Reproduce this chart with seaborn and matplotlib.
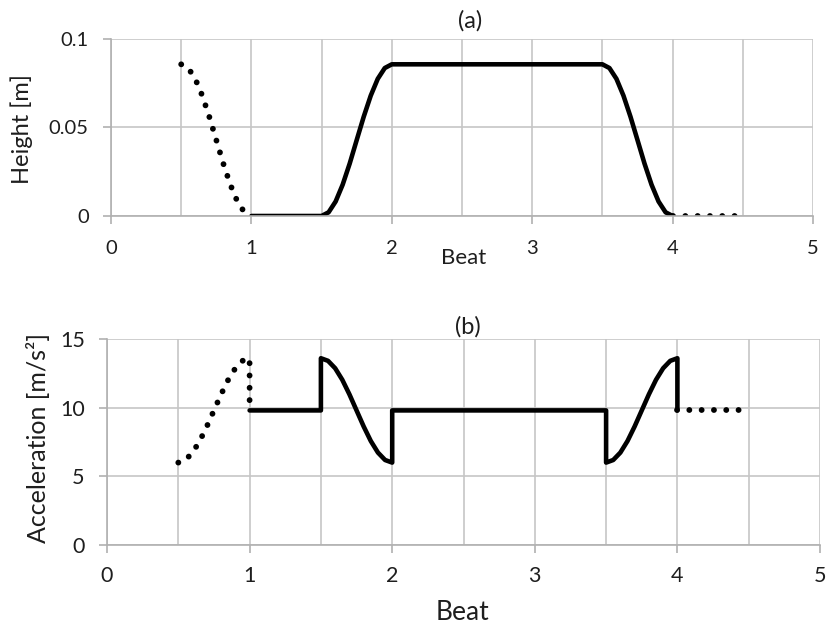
import matplotlib
matplotlib.use("Agg")
import matplotlib.pyplot as plt
import seaborn as sns
import pandas as pd
from matplotlib.ticker import MultipleLocator

sns.set_theme(style="white")
plt.rcParams['font.family'] = ['Lato', 'DejaVu Sans']

# ---------------- data ----------------
# (a) Height [m]
h_pre_x = [0.5, 0.55, 0.6, 0.65, 0.7, 0.75, 0.8, 0.85, 0.9, 0.95, 1.0]
h_pre_y = [0.0857, 0.0836, 0.0775, 0.0680, 0.0561, 0.0429, 0.0296, 0.0177, 0.0082, 0.0021, 0.0]

h_main_x = [1.0, 1.5, 1.55, 1.6, 1.65, 1.7, 1.75, 1.8, 1.85, 1.9, 1.95, 2.0,
            3.5, 3.55, 3.6, 3.65, 3.7, 3.75, 3.8, 3.85, 3.9, 3.95, 4.0]
h_main_y = [0.0, 0.0, 0.0021, 0.0082, 0.0177, 0.0296, 0.0429, 0.0561, 0.0680, 0.0775, 0.0836, 0.0857,
            0.0857, 0.0836, 0.0775, 0.0680, 0.0561, 0.0429, 0.0296, 0.0177, 0.0082, 0.0021, 0.0]

h_post_x = [4.0, 4.45]
h_post_y = [0.0, 0.0]

# (b) Acceleration [m/s²]
a_pre_x = [0.5, 0.55, 0.6, 0.65, 0.7, 0.75, 0.8, 0.85, 0.9, 0.95, 1.0, 1.0]
a_pre_y = [6.0, 6.19, 6.73, 7.57, 8.63, 9.8, 10.97, 12.03, 12.87, 13.41, 13.6, 9.8]

a_main_x = [1.0, 1.5, 1.5, 1.55, 1.6, 1.65, 1.7, 1.75, 1.8, 1.85, 1.9, 1.95, 2.0, 2.0,
            3.5, 3.5, 3.55, 3.6, 3.65, 3.7, 3.75, 3.8, 3.85, 3.9, 3.95, 4.0, 4.0]
a_main_y = [9.8, 9.8, 13.6, 13.41, 12.87, 12.03, 10.97, 9.8, 8.63, 7.57, 6.73, 6.19, 6.0, 9.8,
            9.8, 6.0, 6.19, 6.73, 7.57, 8.63, 9.8, 10.97, 12.03, 12.87, 13.41, 13.6, 9.8]

a_post_x = [4.0, 4.45]
a_post_y = [9.8, 9.8]

x_ticks = [0, 1, 2, 3, 4, 5]

# ---------------- figure ----------------
fig = plt.figure(figsize=(8.27, 6.28), dpi=100)
ax1 = fig.add_axes([111/827, 1-216/628, (813-111)/827, (216-39)/628])
ax2 = fig.add_axes([107/827, 1-545/628, (820-107)/827, (545-339)/628])

GRID = '#c6c6c6'
AXC = '#b0b0b0'
TXT = '#1e1e1e'
DOT = dict(color='black', lw=4.2, dashes=(0.01, 2.1), dash_capstyle='round')
SOLID = dict(color='black', lw=3.3, solid_joinstyle='round')


def seg(ax, xs, ys, **kw):
    df = pd.DataFrame({'x': xs, 'y': ys})
    sns.lineplot(data=df, x='x', y='y', sort=False, estimator=None, ax=ax, **kw)


seg(ax1, h_pre_x, h_pre_y, **DOT)
seg(ax1, h_main_x, h_main_y, **SOLID)
seg(ax1, h_post_x, h_post_y, **DOT)

seg(ax2, a_pre_x, a_pre_y, **DOT)
seg(ax2, a_main_x, a_main_y, **SOLID)
seg(ax2, a_post_x, a_post_y, **DOT)


def style(ax, ymax, ystep, fs, xpad):
    ax.set_xlim(0, 5)
    ax.set_ylim(0, ymax)
    ax.set_xticks(x_ticks)
    ax.xaxis.set_minor_locator(MultipleLocator(0.5))
    ax.yaxis.set_major_locator(MultipleLocator(ystep))
    ax.grid(True, which='both', axis='x', color=GRID, lw=1.2)
    ax.grid(True, which='major', axis='y', color=GRID, lw=1.2)
    ax.set_axisbelow(True)
    for s in ['top', 'right']:
        ax.spines[s].set_visible(False)
    for s in ['left', 'bottom']:
        ax.spines[s].set_color(AXC)
        ax.spines[s].set_linewidth(1.2)
    ax.tick_params(axis='x', which='major', direction='out', length=6, width=1.2,
                   color=AXC, labelsize=fs, pad=xpad, labelcolor=TXT, bottom=True)
    ax.tick_params(axis='x', which='minor', length=0)
    ax.tick_params(axis='y', which='major', direction='out', length=6, width=1.2,
                   color=AXC, labelsize=fs, pad=10, labelcolor=TXT, left=True)
    ax.set_xlabel('')
    ax.set_ylabel('')


style(ax1, 0.1, 0.05, 14.5, 11)
style(ax2, 15, 5, 15.5, 9)
ax1.set_yticks([0, 0.05, 0.1])
ax1.set_yticklabels(['0', '0.05', '0.1'])

fig.text(22/827, 1-129/628, 'Height [m]', fontsize=17, rotation=90,
         ha='center', va='center', color=TXT)
fig.text(38/827, 1-438/628, 'Acceleration [m/s²]', fontsize=18, rotation=90,
         ha='center', va='center', color=TXT)

fig.text(464/827, 1-258/628, 'Beat', fontsize=16, ha='center', va='center', color=TXT)
fig.text(463/827, 1-612/628, 'Beat', fontsize=19, ha='center', va='center', color=TXT)
fig.text(470/827, 1-21/628, '(a)', fontsize=17, ha='center', va='center', color=TXT)
fig.text(468/827, 1-327/628, '(b)', fontsize=17, ha='center', va='center', color=TXT)

fig.savefig('out.png', dpi=100)
